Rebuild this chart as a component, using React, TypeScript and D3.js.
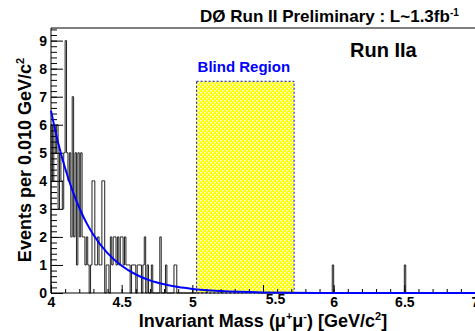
import * as d3 from "d3";
import React, { useRef, useEffect } from "react";

// histogram: 0.010 GeV bins starting at 4.00 (left sideband only, signal region blinded)
const binWidth = 0.01;
const lowStart = 4.0;
const lowCounts = [
  6, 4, 6, 5, 6, 3, 5, 4, 3, 5,
  9, 5, 4, 5, 2, 7, 2, 5, 1, 5,
  2, 5, 2, 2, 1, 2, 1, 0, 1, 4,
  4, 1, 1, 2, 1, 1, 4, 4, 0, 1,
  1, 0, 2, 1, 2, 2, 1, 2, 1, 2,
  2, 1, 2, 1, 1, 1, 0, 1, 1, 1,
  0, 1, 1, 1, 0, 1, 2, 0, 1, 0,
  0, 1, 0, 0, 0, 0, 0, 2, 0, 0,
  0, 1, 0, 0, 0, 0, 0, 1, 1, 0,
  0, 0, 0, 0, 0, 0, 0, 0, 0, 0,
  0, 0, 0,
];
// isolated events in the right sideband
const extraBinEdges = [5.99, 6.5];
const extraCounts = [1, 1];

// exponential background fit
const fitX = [4.0, 4.05, 4.1, 4.15, 4.2, 4.25, 4.3, 4.4, 4.5, 4.6, 4.7, 4.8, 4.9, 5.0, 5.2, 5.5, 6.0, 7.0];
const fitY = [6.5, 5.37, 4.45, 3.68, 3.04, 2.51, 2.08, 1.42, 0.97, 0.66, 0.45, 0.31, 0.21, 0.145, 0.07, 0.022, 0.003, 0];

const blindLo = 5.03;
const blindHi = 5.72;
const blindTop = 7.55;

const xTicks = [4, 4.5, 5, 5.5, 6, 6.5, 7];
const yTicks = [0, 1, 2, 3, 4, 5, 6, 7, 8, 9];

function App() {
  const svgRef = useRef(null);
  const width = 475;
  const height = 331;
  const marginLeft = 51;
  const marginTop = 28;
  const marginBottom = 38;
  const font = "'Liberation Sans', Arial, Helvetica, sans-serif";

  useEffect(() => {
    const svg = d3.select(svgRef.current);
    svg.selectAll("*").remove();

    const x = d3.scaleLinear().domain([4, 7]).range([marginLeft, width]);
    const y = d3.scaleLinear().domain([0, 9.45]).range([height - marginBottom, marginTop]);

    // checker pattern for the blind box
    const defs = svg.append("defs");
    const pat = defs.append("pattern")
      .attr("id", "chk")
      .attr("width", 4)
      .attr("height", 4)
      .attr("patternUnits", "userSpaceOnUse");
    pat.append("rect").attr("width", 4).attr("height", 4).attr("fill", "#ffff00");
    pat.append("rect").attr("x", 0).attr("y", 0).attr("width", 1.5).attr("height", 1.5).attr("fill", "#ffffff");
    pat.append("rect").attr("x", 2).attr("y", 2).attr("width", 1.5).attr("height", 1.5).attr("fill", "#ffffff");

    svg.append("rect")
      .attr("x", x(blindLo))
      .attr("y", y(blindTop))
      .attr("width", x(blindHi) - x(blindLo))
      .attr("height", y(0) - y(blindTop))
      .attr("fill", "url(#chk)")
      .attr("stroke", "#0000ff")
      .attr("stroke-dasharray", "2,2")
      .attr("stroke-width", 1);

    // histogram outline
    const p = d3.path();
    p.moveTo(x(lowStart), y(0));
    lowCounts.forEach((c, i) => {
      const lo = lowStart + i * binWidth;
      p.lineTo(x(lo), y(c));
      p.lineTo(x(lo + binWidth), y(c));
    });
    p.lineTo(x(lowStart + lowCounts.length * binWidth), y(0));
    extraBinEdges.forEach((lo, i) => {
      p.moveTo(x(lo), y(0));
      p.lineTo(x(lo), y(extraCounts[i]));
      p.lineTo(x(lo + binWidth), y(extraCounts[i]));
      p.lineTo(x(lo + binWidth), y(0));
    });
    svg.append("path")
      .attr("d", p.toString())
      .attr("fill", "none")
      .attr("stroke", "#222")
      .attr("stroke-width", 1);

    // axes
    svg.append("g")
      .attr("transform", `translate(0, ${y(0)})`)
      .call(d3.axisBottom(x).tickValues(xTicks).tickSizeInner(-8).tickSizeOuter(0).tickPadding(4)
        .tickFormat((d) => String(d)))
      .selectAll("text")
      .filter((d) => d === 5.5)
      .attr("dx", 12)
      .attr("dy", "0.5em");
    svg.append("g")
      .attr("transform", `translate(0, ${y(0)})`)
      .call(d3.axisBottom(x).tickValues(d3.range(4, 7.001, 0.1)).tickSize(-4))
      .selectAll("text").remove();

    svg.append("g")
      .attr("transform", `translate(${marginLeft}, 0)`)
      .call(d3.axisLeft(y).tickValues(yTicks).tickSizeInner(-12).tickSizeOuter(0).tickPadding(4));
    svg.append("g")
      .attr("transform", `translate(${marginLeft}, 0)`)
      .call(d3.axisLeft(y).tickValues(d3.range(0, 9.45, 0.2)).tickSize(-6))
      .selectAll("text").remove();

    svg.selectAll(".domain").remove();
    svg.selectAll(".tick line").attr("stroke", "#000");
    svg.selectAll(".tick text")
      .attr("font-family", font)
      .attr("font-weight", "bold")
      .attr("font-size", 14)
      .attr("fill", "#000");

    // frame
    svg.append("path")
      .attr("d", `M${x(7)},${y(9.45)}H${x(4)}V${y(0)}H${x(7)}`)
      .attr("fill", "none")
      .attr("stroke", "#000")
      .attr("stroke-width", 1);

    // fit curve, over the bottom axis line
    const line = d3.line()
      .x((d, i) => x(fitX[i]))
      .y((d) => y(d))
      .curve(d3.curveMonotoneX);
    svg.append("path")
      .attr("d", line(fitY))
      .attr("fill", "none")
      .attr("stroke", "#0000ff")
      .attr("stroke-width", 2);

    // texts
    const title = svg.append("text")
      .attr("x", 200)
      .attr("y", 22)
      .attr("font-family", font)
      .attr("font-weight", "bold")
      .attr("font-size", 17)
      .text("DØ Run II Preliminary : L~1.3fb");
    title.append("tspan").attr("dy", -6).attr("font-size", 10).text("-1");

    svg.append("text")
      .attr("x", 350)
      .attr("y", 57)
      .attr("font-family", font)
      .attr("font-weight", "bold")
      .attr("font-size", 20)
      .text("Run IIa");

    svg.append("text")
      .attr("x", x(blindLo) + 1)
      .attr("y", 72)
      .attr("font-family", font)
      .attr("font-weight", "bold")
      .attr("font-size", 15)
      .attr("fill", "#0000ff")
      .text("Blind Region");

    const xt = svg.append("text")
      .attr("x", (x(4) + x(7)) / 2)
      .attr("y", 327)
      .attr("text-anchor", "middle")
      .attr("font-family", font)
      .attr("font-weight", "bold")
      .attr("font-size", 18)
      .text("Invariant Mass (μ");
    xt.append("tspan").attr("dy", -7).attr("font-size", 11).text("+");
    xt.append("tspan").attr("dy", 7).text("μ");
    xt.append("tspan").attr("dy", -7).attr("font-size", 11).text("-");
    xt.append("tspan").attr("dy", 7).text(") [GeV/c");
    xt.append("tspan").attr("dy", -7).attr("font-size", 11).text("2");
    xt.append("tspan").attr("dy", 7).text("]");

    const yt = svg.append("text")
      .attr("transform", `translate(31, 160) rotate(-90)`)
      .attr("text-anchor", "middle")
      .attr("font-family", font)
      .attr("font-weight", "bold")
      .attr("font-size", 18)
      .text("Events per 0.010 GeV/c");
    yt.append("tspan").attr("dy", -7).attr("font-size", 11).text("2");
  }, []);

  return (
    <div style={{ position: "absolute", left: 0, top: 0 }}>
      <svg ref={svgRef} width={width} height={height} style={{ display: "block", background: "#fff" }}></svg>
    </div>
  );
}

export default App;
